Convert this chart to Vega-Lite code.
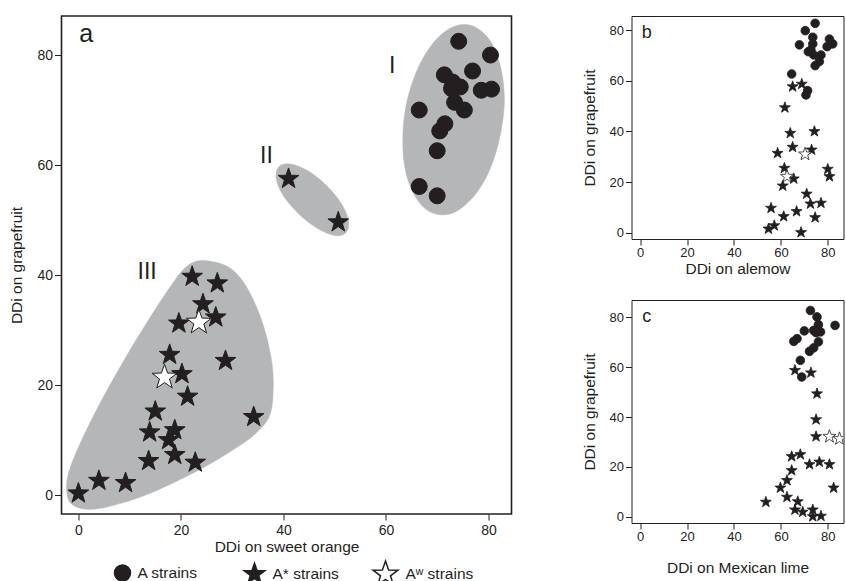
{
  "$schema": "https://vega.github.io/schema/vega-lite/v6.json",
  "background": "white",
  "padding": {"left": 8.5, "top": 15, "right": 0, "bottom": 0},
  "config": {
    "font": "Liberation Sans",
    "axis": {"domain": false, "grid": false, "tickColor": "#231f20", "labelColor": "#231f20", "titleColor": "#231f20", "titleFontWeight": "normal", "labelFont": "Liberation Sans", "titleFont": "Liberation Sans", "tickWidth": 1},
    "legend": {"labelFont": "Liberation Sans", "labelColor": "#231f20"}
  },
  "datasets": {
    "regions": [
      {"region": "I", "i": 0, "x": 76.1, "y": 85.5}, {"region": "I", "i": 1, "x": 78.4, "y": 84.5}, {"region": "I", "i": 2, "x": 80.4, "y": 82.5}, {"region": "I", "i": 3, "x": 81.9, "y": 79.4}, {"region": "I", "i": 4, "x": 82.8, "y": 75.7}, {"region": "I", "i": 5, "x": 83.1, "y": 71.4}, {"region": "I", "i": 6, "x": 82.6, "y": 66.9}, {"region": "I", "i": 7, "x": 81.5, "y": 62.4}, {"region": "I", "i": 8, "x": 79.9, "y": 58.4}, {"region": "I", "i": 9, "x": 77.8, "y": 55.1}, {"region": "I", "i": 10, "x": 75.3, "y": 52.6}, {"region": "I", "i": 11, "x": 72.8, "y": 51.2}, {"region": "I", "i": 12, "x": 70.2, "y": 51.0}, {"region": "I", "i": 13, "x": 67.9, "y": 51.9}, {"region": "I", "i": 14, "x": 65.9, "y": 54.0}, {"region": "I", "i": 15, "x": 64.4, "y": 57.0}, {"region": "I", "i": 16, "x": 63.5, "y": 60.8}, {"region": "I", "i": 17, "x": 63.3, "y": 65.1}, {"region": "I", "i": 18, "x": 63.7, "y": 69.6}, {"region": "I", "i": 19, "x": 64.8, "y": 74.0}, {"region": "I", "i": 20, "x": 66.5, "y": 78.1}, {"region": "I", "i": 21, "x": 68.6, "y": 81.4}, {"region": "I", "i": 22, "x": 71.0, "y": 83.9}, {"region": "I", "i": 23, "x": 73.6, "y": 85.3},
      {"region": "II", "i": 0, "x": 52.2, "y": 47.7}, {"region": "II", "i": 1, "x": 50.0, "y": 47.2}, {"region": "II", "i": 2, "x": 46.6, "y": 48.5}, {"region": "II", "i": 3, "x": 43.0, "y": 51.1}, {"region": "II", "i": 4, "x": 40.0, "y": 54.4}, {"region": "II", "i": 5, "x": 38.6, "y": 57.5}, {"region": "II", "i": 6, "x": 39.1, "y": 59.7}, {"region": "II", "i": 7, "x": 41.3, "y": 60.2}, {"region": "II", "i": 8, "x": 44.7, "y": 59.0}, {"region": "II", "i": 9, "x": 48.4, "y": 56.3}, {"region": "II", "i": 10, "x": 51.3, "y": 53.0}, {"region": "II", "i": 11, "x": 52.7, "y": 49.9},
      {"region": "III", "i": 0, "x": 23.6, "y": 42.6}, {"region": "III", "i": 1, "x": 28.3, "y": 41.9}, {"region": "III", "i": 2, "x": 31.4, "y": 39.7}, {"region": "III", "i": 3, "x": 33.8, "y": 36.1}, {"region": "III", "i": 4, "x": 36.1, "y": 30.8}, {"region": "III", "i": 5, "x": 37.7, "y": 24.4}, {"region": "III", "i": 6, "x": 38.0, "y": 19.0}, {"region": "III", "i": 7, "x": 37.3, "y": 14.4}, {"region": "III", "i": 8, "x": 34.7, "y": 11.3}, {"region": "III", "i": 9, "x": 30.8, "y": 8.6}, {"region": "III", "i": 10, "x": 24.0, "y": 4.8}, {"region": "III", "i": 11, "x": 14.2, "y": 0.4}, {"region": "III", "i": 12, "x": 6.4, "y": -2.0}, {"region": "III", "i": 13, "x": 1.6, "y": -2.6}, {"region": "III", "i": 14, "x": -1.4, "y": -1.6}, {"region": "III", "i": 15, "x": -2.3, "y": 0.8}, {"region": "III", "i": 16, "x": -1.8, "y": 4.4}, {"region": "III", "i": 17, "x": 0.6, "y": 9.9}, {"region": "III", "i": 18, "x": 4.5, "y": 17.2}, {"region": "III", "i": 19, "x": 9.4, "y": 25.3}, {"region": "III", "i": 20, "x": 14.2, "y": 32.6}, {"region": "III", "i": 21, "x": 18.1, "y": 38.1}, {"region": "III", "i": 22, "x": 20.7, "y": 41.2}
    ],
    "labels": [
      {"panel": "a", "kind": "letter", "label": "a", "x": 1.5, "y": 82.3},
      {"panel": "a", "kind": "numeral", "label": "I", "x": 61.2, "y": 76.8},
      {"panel": "a", "kind": "numeral", "label": "II", "x": 36.7, "y": 60.4},
      {"panel": "a", "kind": "numeral", "label": "III", "x": 13.4, "y": 39.3},
      {"panel": "b", "kind": "letter", "label": "b", "x": 2.8, "y": 76.8},
      {"panel": "c", "kind": "letter", "label": "c", "x": 2.8, "y": 78.2}
    ],
    "main": [
      {"type": "A strains", "x": 74.2, "y": 82.5}, {"type": "A strains", "x": 80.4, "y": 80.0}, {"type": "A strains", "x": 76.9, "y": 77.1}, {"type": "A strains", "x": 71.4, "y": 76.4}, {"type": "A strains", "x": 73.0, "y": 75.1}, {"type": "A strains", "x": 74.5, "y": 74.2}, {"type": "A strains", "x": 72.8, "y": 73.9}, {"type": "A strains", "x": 78.6, "y": 73.6}, {"type": "A strains", "x": 80.6, "y": 73.8}, {"type": "A strains", "x": 73.4, "y": 71.4}, {"type": "A strains", "x": 75.3, "y": 70.0}, {"type": "A strains", "x": 66.5, "y": 70.0}, {"type": "A strains", "x": 71.5, "y": 67.5}, {"type": "A strains", "x": 70.5, "y": 66.2}, {"type": "A strains", "x": 70.0, "y": 62.6}, {"type": "A strains", "x": 66.5, "y": 56.1}, {"type": "A strains", "x": 70.0, "y": 54.4},
      {"type": "A* strains", "x": 41.0, "y": 57.5}, {"type": "A* strains", "x": 50.7, "y": 49.6}, {"type": "A* strains", "x": 22.2, "y": 39.7}, {"type": "A* strains", "x": 27.1, "y": 38.5}, {"type": "A* strains", "x": 24.3, "y": 34.7}, {"type": "A* strains", "x": 26.8, "y": 32.3}, {"type": "A* strains", "x": 19.6, "y": 31.2}, {"type": "A* strains", "x": 17.8, "y": 25.5}, {"type": "A* strains", "x": 28.7, "y": 24.4}, {"type": "A* strains", "x": 20.2, "y": 22.0}, {"type": "A* strains", "x": 21.3, "y": 17.9}, {"type": "A* strains", "x": 34.2, "y": 14.2}, {"type": "A* strains", "x": 15.0, "y": 15.2}, {"type": "A* strains", "x": 13.9, "y": 11.4}, {"type": "A* strains", "x": 18.8, "y": 11.8}, {"type": "A* strains", "x": 17.6, "y": 10.0}, {"type": "A* strains", "x": 18.8, "y": 7.3}, {"type": "A* strains", "x": 13.7, "y": 6.2}, {"type": "A* strains", "x": 22.8, "y": 5.9}, {"type": "A* strains", "x": 4.0, "y": 2.6}, {"type": "A* strains", "x": 9.2, "y": 2.2}, {"type": "A* strains", "x": 0.0, "y": 0.3},
      {"type": "Aʷ strains", "x": 23.5, "y": 31.4}, {"type": "Aʷ strains", "x": 16.8, "y": 21.4}
    ],
    "b": [
      {"type": "A strains", "x": 74.6, "y": 82.7}, {"type": "A strains", "x": 70.4, "y": 79.8}, {"type": "A strains", "x": 73.6, "y": 77.2}, {"type": "A strains", "x": 80.7, "y": 76.5}, {"type": "A strains", "x": 67.9, "y": 74.2}, {"type": "A strains", "x": 73.6, "y": 74.6}, {"type": "A strains", "x": 82.1, "y": 74.6}, {"type": "A strains", "x": 79.7, "y": 73.5}, {"type": "A strains", "x": 71.7, "y": 71.5}, {"type": "A strains", "x": 74.0, "y": 70.2}, {"type": "A strains", "x": 77.1, "y": 70.2}, {"type": "A strains", "x": 76.4, "y": 67.6}, {"type": "A strains", "x": 74.6, "y": 66.0}, {"type": "A strains", "x": 72.8, "y": 72.2}, {"type": "A strains", "x": 64.6, "y": 62.7}, {"type": "A strains", "x": 71.4, "y": 56.1}, {"type": "A strains", "x": 70.7, "y": 54.4},
      {"type": "A* strains", "x": 65.0, "y": 57.7}, {"type": "A* strains", "x": 68.9, "y": 58.7}, {"type": "A* strains", "x": 61.7, "y": 49.4}, {"type": "A* strains", "x": 64.0, "y": 39.3}, {"type": "A* strains", "x": 74.3, "y": 40.0}, {"type": "A* strains", "x": 65.0, "y": 33.8}, {"type": "A* strains", "x": 58.6, "y": 31.4}, {"type": "A* strains", "x": 73.1, "y": 32.7}, {"type": "A* strains", "x": 61.5, "y": 25.5}, {"type": "A* strains", "x": 65.5, "y": 21.3}, {"type": "A* strains", "x": 60.8, "y": 18.5}, {"type": "A* strains", "x": 80.0, "y": 25.1}, {"type": "A* strains", "x": 80.7, "y": 22.2}, {"type": "A* strains", "x": 71.0, "y": 15.3}, {"type": "A* strains", "x": 72.6, "y": 11.4}, {"type": "A* strains", "x": 77.1, "y": 11.7}, {"type": "A* strains", "x": 55.8, "y": 9.7}, {"type": "A* strains", "x": 66.7, "y": 8.4}, {"type": "A* strains", "x": 61.2, "y": 6.4}, {"type": "A* strains", "x": 74.6, "y": 6.0}, {"type": "A* strains", "x": 57.2, "y": 2.8}, {"type": "A* strains", "x": 54.7, "y": 1.5}, {"type": "A* strains", "x": 68.6, "y": 0.1},
      {"type": "Aʷ strains", "x": 70.3, "y": 31.0}, {"type": "Aʷ strains", "x": 62.6, "y": 22.2}
    ],
    "c": [
      {"type": "A strains", "x": 72.6, "y": 82.8}, {"type": "A strains", "x": 75.4, "y": 80.2}, {"type": "A strains", "x": 76.0, "y": 77.1}, {"type": "A strains", "x": 83.1, "y": 76.8}, {"type": "A strains", "x": 70.0, "y": 74.6}, {"type": "A strains", "x": 74.0, "y": 74.8}, {"type": "A strains", "x": 76.9, "y": 74.2}, {"type": "A strains", "x": 75.0, "y": 73.9}, {"type": "A strains", "x": 66.9, "y": 71.5}, {"type": "A strains", "x": 65.5, "y": 70.4}, {"type": "A strains", "x": 76.0, "y": 70.2}, {"type": "A strains", "x": 74.0, "y": 67.8}, {"type": "A strains", "x": 72.2, "y": 66.4}, {"type": "A strains", "x": 68.3, "y": 62.8}, {"type": "A strains", "x": 68.9, "y": 56.1},
      {"type": "A* strains", "x": 66.0, "y": 58.8}, {"type": "A* strains", "x": 72.8, "y": 57.8}, {"type": "A* strains", "x": 75.4, "y": 49.4}, {"type": "A* strains", "x": 75.0, "y": 39.0}, {"type": "A* strains", "x": 75.0, "y": 32.2}, {"type": "A* strains", "x": 64.6, "y": 24.2}, {"type": "A* strains", "x": 68.3, "y": 25.0}, {"type": "A* strains", "x": 72.2, "y": 21.0}, {"type": "A* strains", "x": 76.4, "y": 22.0}, {"type": "A* strains", "x": 80.7, "y": 21.0}, {"type": "A* strains", "x": 64.6, "y": 18.6}, {"type": "A* strains", "x": 62.6, "y": 14.6}, {"type": "A* strains", "x": 59.8, "y": 11.6}, {"type": "A* strains", "x": 82.5, "y": 11.6}, {"type": "A* strains", "x": 53.6, "y": 5.9}, {"type": "A* strains", "x": 62.6, "y": 7.9}, {"type": "A* strains", "x": 67.2, "y": 6.1}, {"type": "A* strains", "x": 66.0, "y": 2.8}, {"type": "A* strains", "x": 69.3, "y": 1.9}, {"type": "A* strains", "x": 73.6, "y": 2.8}, {"type": "A* strains", "x": 73.6, "y": 0.1}, {"type": "A* strains", "x": 77.1, "y": 0.3},
      {"type": "Aʷ strains", "x": 80.7, "y": 32.2}, {"type": "Aʷ strains", "x": 85.0, "y": 31.3}
    ]
  },
  "resolve": {"scale": {"shape": "independent", "fill": "independent", "size": "independent"}},
  "spacing": 69,
  "hconcat": [
    {
      "width": 450,
      "height": 498,
      "view": {"stroke": "#231f20", "strokeWidth": 1.6},
      "layer": [
        {
          "data": {"name": "regions"},
          "mark": {"type": "line", "interpolate": "cardinal-closed", "fill": "#b5b6b8", "stroke": "#b5b6b8", "strokeWidth": 0.5},
          "encoding": {
            "x": {"field": "x", "type": "quantitative", "scale": {"domain": [-3.3, 84.5], "nice": false, "zero": false}, "axis": {"values": [0, 20, 40, 60, 80], "title": "DDi on sweet orange", "labelFontSize": 14, "titleFontSize": 15.5, "tickSize": 6, "labelPadding": 3, "titlePadding": 2}},
            "y": {"field": "y", "type": "quantitative", "scale": {"domain": [-3.45, 87.1], "nice": false, "zero": false}, "axis": {"values": [0, 20, 40, 60, 80], "title": "DDi on grapefruit", "labelFontSize": 14, "titleFontSize": 15.5, "tickSize": 7, "labelPadding": 2, "titlePadding": 12}},
            "detail": {"field": "region", "type": "nominal"},
            "order": {"field": "i", "type": "quantitative"}
          }
        },
        {
          "data": {"name": "labels"},
          "transform": [{"filter": "datum.panel === 'a' && datum.kind === 'numeral'"}],
          "mark": {"type": "text", "fontSize": 23, "align": "center", "baseline": "alphabetic", "color": "#231f20"},
          "encoding": {
            "x": {"field": "x", "type": "quantitative", "scale": {"domain": [-3.3, 84.5], "nice": false, "zero": false}, "axis": {"values": [0, 20, 40, 60, 80], "title": "DDi on sweet orange", "labelFontSize": 14, "titleFontSize": 15.5, "tickSize": 6, "labelPadding": 3, "titlePadding": 2}},
            "y": {"field": "y", "type": "quantitative", "scale": {"domain": [-3.45, 87.1], "nice": false, "zero": false}, "axis": {"values": [0, 20, 40, 60, 80], "title": "DDi on grapefruit", "labelFontSize": 14, "titleFontSize": 15.5, "tickSize": 7, "labelPadding": 2, "titlePadding": 12}},
            "text": {"field": "label"}
          }
        },
        {
          "data": {"name": "labels"},
          "transform": [{"filter": "datum.panel === 'a' && datum.kind === 'letter'"}],
          "mark": {"type": "text", "fontSize": 25, "align": "center", "baseline": "alphabetic", "color": "#231f20"},
          "encoding": {
            "x": {"field": "x", "type": "quantitative", "scale": {"domain": [-3.3, 84.5], "nice": false, "zero": false}, "axis": {"values": [0, 20, 40, 60, 80], "title": "DDi on sweet orange", "labelFontSize": 14, "titleFontSize": 15.5, "tickSize": 6, "labelPadding": 3, "titlePadding": 2}},
            "y": {"field": "y", "type": "quantitative", "scale": {"domain": [-3.45, 87.1], "nice": false, "zero": false}, "axis": {"values": [0, 20, 40, 60, 80], "title": "DDi on grapefruit", "labelFontSize": 14, "titleFontSize": 15.5, "tickSize": 7, "labelPadding": 2, "titlePadding": 12}},
            "text": {"field": "label"}
          }
        },
        {
          "data": {"name": "main"},
          "mark": {"type": "point", "stroke": "#231f20", "strokeWidth": 1, "opacity": 1, "fillOpacity": 1},
          "encoding": {
            "x": {"field": "x", "type": "quantitative", "scale": {"domain": [-3.3, 84.5], "nice": false, "zero": false}, "axis": {"values": [0, 20, 40, 60, 80], "title": "DDi on sweet orange", "labelFontSize": 14, "titleFontSize": 15.5, "tickSize": 6, "labelPadding": 3, "titlePadding": 2}},
            "y": {"field": "y", "type": "quantitative", "scale": {"domain": [-3.45, 87.1], "nice": false, "zero": false}, "axis": {"values": [0, 20, 40, 60, 80], "title": "DDi on grapefruit", "labelFontSize": 14, "titleFontSize": 15.5, "tickSize": 7, "labelPadding": 2, "titlePadding": 12}},
            "shape": {"field": "type", "type": "nominal", "scale": {"domain": ["A strains", "A* strains", "Aʷ strains"], "range": ["circle", "M0,-1L0.2351,-0.3236L0.9511,-0.309L0.3804,0.1236L0.5878,0.809L0,0.4L-0.5878,0.809L-0.3804,0.1236L-0.9511,-0.309L-0.2351,-0.3236Z", "M0,-1L0.2351,-0.3236L0.9511,-0.309L0.3804,0.1236L0.5878,0.809L0,0.4L-0.5878,0.809L-0.3804,0.1236L-0.9511,-0.309L-0.2351,-0.3236Z"]}, "legend": {"title": null, "orient": "none", "direction": "horizontal", "legendX": 52, "legendY": 544, "labelFontSize": 15.5, "labelOffset": 6, "columnPadding": 25, "gridAlign": "all"}},
            "fill": {"field": "type", "type": "nominal", "scale": {"domain": ["A strains", "A* strains", "Aʷ strains"], "range": ["#231f20", "#231f20", "#ffffff"]}, "legend": {"title": null, "orient": "none", "direction": "horizontal", "legendX": 52, "legendY": 544, "labelFontSize": 15.5, "labelOffset": 6, "columnPadding": 25, "gridAlign": "all"}},
            "size": {"field": "type", "type": "nominal", "scale": {"domain": ["A strains", "A* strains", "Aʷ strains"], "range": [256, 690, 690]}, "legend": {"title": null, "orient": "none", "direction": "horizontal", "legendX": 52, "legendY": 544, "labelFontSize": 15.5, "labelOffset": 6, "columnPadding": 25, "gridAlign": "all"}}
          }
        }
      ]
    },
    {
      "spacing": 22,
      "vconcat": [
        {
          "width": 212,
          "height": 223,
          "view": {"stroke": "#231f20", "strokeWidth": 1},
          "layer": [
            {
              "data": {"name": "b"},
              "mark": {"type": "point", "stroke": "#231f20", "strokeWidth": 0.8, "opacity": 1, "fillOpacity": 1, "clip": true},
              "encoding": {
                "x": {"field": "x", "type": "quantitative", "scale": {"domain": [-3.7, 86.7], "nice": false, "zero": false}, "axis": {"values": [0, 20, 40, 60, 80], "title": "DDi on alemow", "labelFontSize": 13, "titleFontSize": 15.5, "tickSize": 6, "labelPadding": 1, "titlePadding": 2}},
                "y": {"field": "y", "type": "quantitative", "scale": {"domain": [-2.5, 85.6], "nice": false, "zero": false}, "axis": {"values": [0, 20, 40, 60, 80], "title": "DDi on grapefruit", "labelFontSize": 13, "titleFontSize": 15.5, "tickSize": 6, "labelPadding": 2, "titlePadding": 12}},
                "shape": {"field": "type", "type": "nominal", "scale": {"domain": ["A strains", "A* strains", "Aʷ strains"], "range": ["circle", "M0,-1L0.2351,-0.3236L0.9511,-0.309L0.3804,0.1236L0.5878,0.809L0,0.4L-0.5878,0.809L-0.3804,0.1236L-0.9511,-0.309L-0.2351,-0.3236Z", "M0,-1L0.2351,-0.3236L0.9511,-0.309L0.3804,0.1236L0.5878,0.809L0,0.4L-0.5878,0.809L-0.3804,0.1236L-0.9511,-0.309L-0.2351,-0.3236Z"]}, "legend": null},
                "fill": {"field": "type", "type": "nominal", "scale": {"domain": ["A strains", "A* strains", "Aʷ strains"], "range": ["#231f20", "#231f20", "#ffffff"]}, "legend": null},
                "size": {"field": "type", "type": "nominal", "scale": {"domain": ["A strains", "A* strains", "Aʷ strains"], "range": [75, 190, 190]}, "legend": null}
              }
            },
            {
              "data": {"name": "labels"},
              "transform": [{"filter": "datum.panel === 'b'"}],
              "mark": {"type": "text", "fontSize": 18, "align": "center", "baseline": "alphabetic", "color": "#231f20"},
              "encoding": {
                "x": {"field": "x", "type": "quantitative", "scale": {"domain": [-3.7, 86.7], "nice": false, "zero": false}, "axis": {"values": [0, 20, 40, 60, 80], "title": "DDi on alemow", "labelFontSize": 13, "titleFontSize": 15.5, "tickSize": 6, "labelPadding": 1, "titlePadding": 2}},
                "y": {"field": "y", "type": "quantitative", "scale": {"domain": [-2.5, 85.6], "nice": false, "zero": false}, "axis": {"values": [0, 20, 40, 60, 80], "title": "DDi on grapefruit", "labelFontSize": 13, "titleFontSize": 15.5, "tickSize": 6, "labelPadding": 2, "titlePadding": 12}},
                "text": {"field": "label"}
              }
            }
          ]
        },
        {
          "width": 212,
          "height": 223,
          "view": {"stroke": "#231f20", "strokeWidth": 1},
          "layer": [
            {
              "data": {"name": "c"},
              "mark": {"type": "point", "stroke": "#231f20", "strokeWidth": 0.8, "opacity": 1, "fillOpacity": 1, "clip": true},
              "encoding": {
                "x": {"field": "x", "type": "quantitative", "scale": {"domain": [-3.7, 86.7], "nice": false, "zero": false}, "axis": {"values": [0, 20, 40, 60, 80], "title": "DDi on Mexican lime", "labelFontSize": 13, "titleFontSize": 15.5, "tickSize": 6, "labelPadding": 1, "titlePadding": 17}},
                "y": {"field": "y", "type": "quantitative", "scale": {"domain": [-2.5, 87.0], "nice": false, "zero": false}, "axis": {"values": [0, 20, 40, 60, 80], "title": "DDi on grapefruit", "labelFontSize": 13, "titleFontSize": 15.5, "tickSize": 6, "labelPadding": 2, "titlePadding": 12}},
                "shape": {"field": "type", "type": "nominal", "scale": {"domain": ["A strains", "A* strains", "Aʷ strains"], "range": ["circle", "M0,-1L0.2351,-0.3236L0.9511,-0.309L0.3804,0.1236L0.5878,0.809L0,0.4L-0.5878,0.809L-0.3804,0.1236L-0.9511,-0.309L-0.2351,-0.3236Z", "M0,-1L0.2351,-0.3236L0.9511,-0.309L0.3804,0.1236L0.5878,0.809L0,0.4L-0.5878,0.809L-0.3804,0.1236L-0.9511,-0.309L-0.2351,-0.3236Z"]}, "legend": null},
                "fill": {"field": "type", "type": "nominal", "scale": {"domain": ["A strains", "A* strains", "Aʷ strains"], "range": ["#231f20", "#231f20", "#ffffff"]}, "legend": null},
                "size": {"field": "type", "type": "nominal", "scale": {"domain": ["A strains", "A* strains", "Aʷ strains"], "range": [75, 190, 190]}, "legend": null}
              }
            },
            {
              "data": {"name": "labels"},
              "transform": [{"filter": "datum.panel === 'c'"}],
              "mark": {"type": "text", "fontSize": 18, "align": "center", "baseline": "alphabetic", "color": "#231f20"},
              "encoding": {
                "x": {"field": "x", "type": "quantitative", "scale": {"domain": [-3.7, 86.7], "nice": false, "zero": false}, "axis": {"values": [0, 20, 40, 60, 80], "title": "DDi on Mexican lime", "labelFontSize": 13, "titleFontSize": 15.5, "tickSize": 6, "labelPadding": 1, "titlePadding": 17}},
                "y": {"field": "y", "type": "quantitative", "scale": {"domain": [-2.5, 87.0], "nice": false, "zero": false}, "axis": {"values": [0, 20, 40, 60, 80], "title": "DDi on grapefruit", "labelFontSize": 13, "titleFontSize": 15.5, "tickSize": 6, "labelPadding": 2, "titlePadding": 12}},
                "text": {"field": "label"}
              }
            }
          ]
        }
      ]
    }
  ]
}
